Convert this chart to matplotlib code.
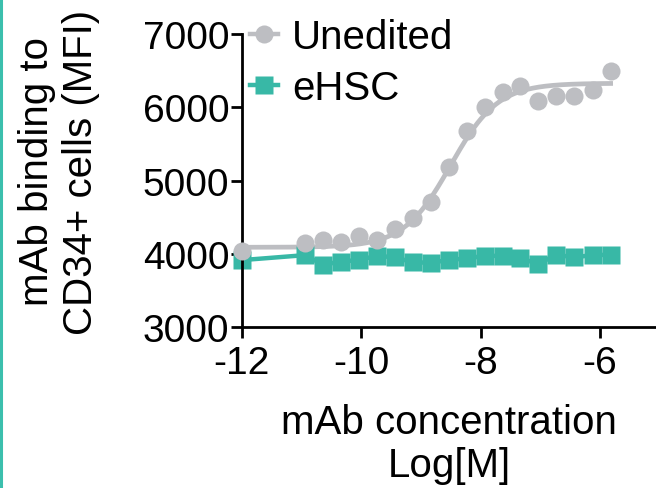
import numpy as np
import matplotlib
matplotlib.use("Agg")
import matplotlib.pyplot as plt
from matplotlib.lines import Line2D

plt.rcParams['font.family'] = ['Liberation Sans', 'DejaVu Sans']
plt.rcParams['axes.unicode_minus'] = False

# data
log_conc = [-12.0, -10.94, -10.64, -10.34, -10.04, -9.74, -9.43, -9.13, -8.83, -8.53,
            -8.23, -7.93, -7.63, -7.33, -7.03, -6.73, -6.43, -6.12, -5.82]
unedited = [4042, 4147, 4192, 4156, 4238, 4192, 4338, 4488, 4711, 5180,
            5680, 6000, 6212, 6286, 6089, 6158, 6150, 6240, 6499]
ehsc = [3915, 3983, 3853, 3894, 3917, 3973, 3953, 3883, 3881, 3917,
        3939, 3973, 3973, 3939, 3863, 3990, 3951, 3986, 3986]

# four-parameter fit for the unedited curve (parameters)
fit_bottom = 4090
fit_top = 6330
fit_logec50 = -8.5
fit_hill = 1.1

gray = '#BDBEC2'
teal = '#38B8A6'

fig = plt.figure(figsize=(6.56, 4.89), dpi=100)
ax = fig.add_axes([0.3685, 0.329, 1 - 0.3685, 0.599])

xs = np.linspace(log_conc[0], log_conc[-1], 300)
curve = fit_bottom + (fit_top - fit_bottom) / (1 + 10 ** ((fit_logec50 - xs) * fit_hill))
ax.plot(xs, curve, color=gray, lw=3.4, clip_on=False, zorder=2)
ax.plot(log_conc, unedited, 'o', color=gray, ms=13, mec='none', clip_on=False, zorder=3)
ax.plot(log_conc, ehsc, 's-', color=teal, ms=13, mec='none', lw=3.2, clip_on=False, zorder=2.5)

ax.set_xlim(-12, -5.06)
ax.set_ylim(3000, 7000)
ax.set_xticks([-12, -10, -8, -6])
ax.set_yticks([3000, 4000, 5000, 6000, 7000])
ax.tick_params(labelsize=28, length=8, width=2, pad=1)
ax.tick_params(axis='x', pad=5)
for s in ['top', 'right']:
    ax.spines[s].set_visible(False)
for s in ['left', 'bottom']:
    ax.spines[s].set_linewidth(2)

ax.set_xlabel('mAb concentration\nLog[M]', fontsize=29, labelpad=16, linespacing=1.17)
fig.text(59 / 656, 1 - 172 / 489, 'mAb binding to\nCD34+ cells (MFI)', rotation=90,
         ha='center', va='center', fontsize=29)

handles = [Line2D([], [], color=gray, marker='o', ms=13, mec='none', lw=3.2),
           Line2D([], [], color=teal, marker='s', ms=13, mec='none', lw=3.2)]
ax.legend(handles, ['Unedited', 'eHSC'], loc='upper left', bbox_to_anchor=(0.02, 1.056),
          frameon=False, fontsize=29, handlelength=0.7, handletextpad=0.35,
          labelspacing=0.32, borderaxespad=0, borderpad=0)

fig.add_artist(Line2D([0.002, 0.002], [0, 1], color='#3BBFAD', lw=2.2))

fig.savefig('out.png', dpi=100)
